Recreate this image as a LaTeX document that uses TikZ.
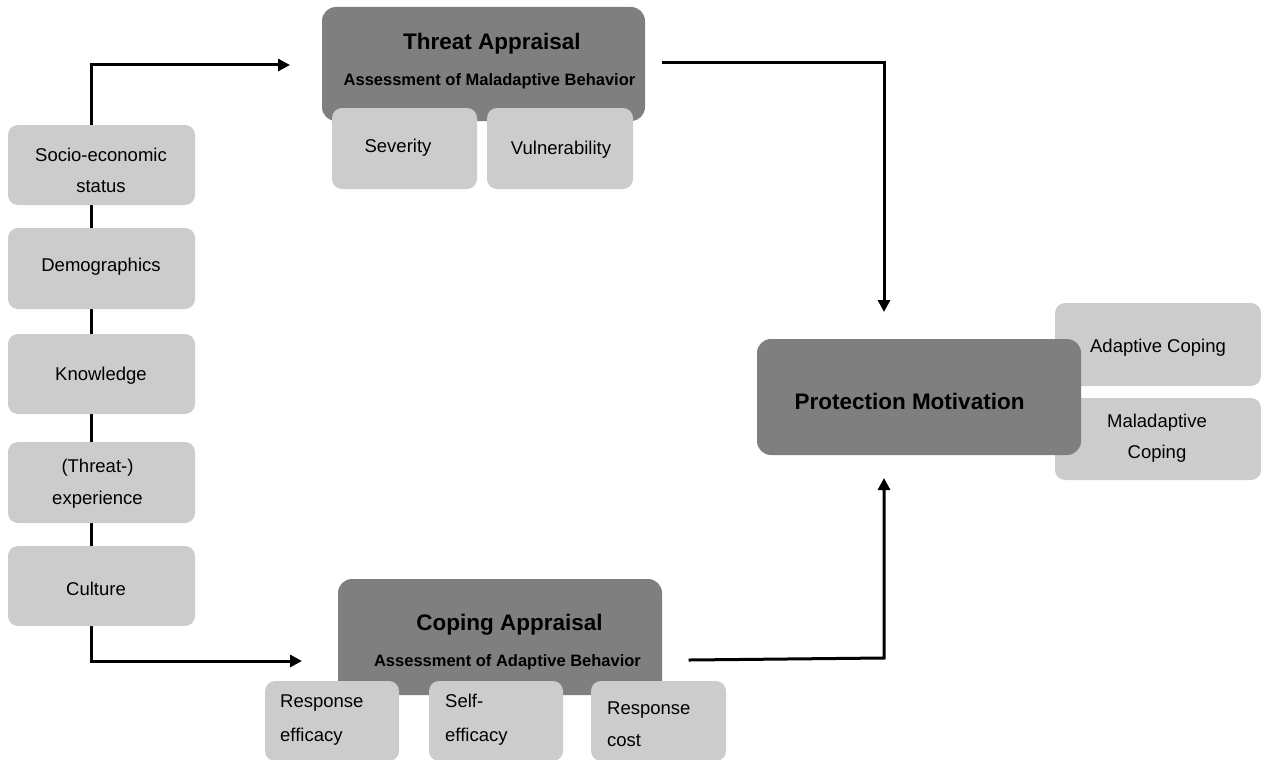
\documentclass[tikz,border=0pt]{standalone}
\usepackage{fontspec}
\setmainfont{Liberation Sans}
\usetikzlibrary{arrows.meta}
\definecolor{darkbox}{HTML}{7F7F7F}
\definecolor{lightbox}{HTML}{CCCCCC}
\tikzset{
  darkrect/.style={fill=darkbox, draw=none, rounded corners=14pt},
  lightrect/.style={fill=lightbox, draw=none, rounded corners=10pt},
  lbl/.style={font=\fontsize{18.5}{31}\selectfont, align=center, inner sep=0pt},
  lbll/.style={font=\fontsize{18.5}{34}\selectfont, align=left, inner sep=0pt, anchor=west},
  ttl/.style={font=\bfseries\fontsize{22.5}{26}\selectfont, inner sep=0pt},
  sub/.style={font=\bfseries\fontsize{16.5}{19}\selectfont, inner sep=0pt},
  conn/.style={line width=3pt, line cap=rect, line join=miter},
  arr/.style={conn, -{Triangle[length=12pt,width=12pt]}}
}
\begin{document}
\begin{tikzpicture}[x=1pt,y=-1pt]
\useasboundingbox (0,0) rectangle (1261,760);
% coordinates for connector ends
\coordinate (ltop) at (91,65);
\coordinate (lbot) at (91,661);
\coordinate (ttarget) at (290,65);
\coordinate (ctarget) at (302,661);
\coordinate (tout) at (663,63);
\coordinate (tcorner) at (884,63);
\coordinate (ptop) at (884,312);
\coordinate (cout) at (690,660);
\coordinate (ccorner) at (884,658);
\coordinate (pbot) at (884,478);
% connectors
\draw[arr] (lbot) -- (ltop) -- (ttarget);
\draw[arr] (lbot) -- (ctarget);
\draw[arr] (tout) -- (tcorner) -- (ptop);
\draw[arr] (cout) -- (ccorner) -- (pbot);
% threat appraisal
\node[darkrect, minimum width=323pt, minimum height=114pt] (threat) at (483.5,64) {};
\node[ttl] (threatT) at (492,44) {Threat Appraisal};
\node[sub] (threatS) at (489.5,81) {Assessment of Maladaptive Behavior};
\node[lightrect, minimum width=145pt, minimum height=81pt] (sev) at (404.5,148.5) {};
\node[lbl] at (398,148) {Severity};
\node[lightrect, minimum width=146pt, minimum height=81pt] (vul) at (560,148.5) {};
\node[lbl] at (561,150) {Vulnerability};
% left column
\node[lightrect, minimum width=187pt, minimum height=80pt] (soc) at (101.5,165) {};
\node[lbl] at (101,170) {Socio-economic\\status};
\node[lightrect, minimum width=187pt, minimum height=81pt] (dem) at (101.5,268.5) {};
\node[lbl] at (101,267) {Demographics};
\node[lightrect, minimum width=187pt, minimum height=80pt] (kno) at (101.5,374) {};
\node[lbl] at (101,376) {Knowledge};
\node[lightrect, minimum width=187pt, minimum height=81pt] (exp) at (101.5,482.5) {};
\node[lbl, font=\fontsize{18.5}{32}\selectfont] at (97.5,484) {(Threat-)\\experience};
\node[lightrect, minimum width=187pt, minimum height=80pt] (cul) at (101.5,586) {};
\node[lbl] at (96,589) {Culture};
% coping appraisal
\node[darkrect, minimum width=324pt, minimum height=116pt] (coping) at (500,637) {};
\node[ttl] at (509.5,625) {Coping Appraisal};
\node[sub] at (507.5,662) {Assessment of Adaptive Behavior};
\node[lightrect, minimum width=134pt, minimum height=80pt] (reff) at (332,721) {};
\node[lbll] at (280,720) {Response\\efficacy};
\node[lightrect, minimum width=134pt, minimum height=80pt] (seff) at (496,721) {};
\node[lbll] at (445,720) {Self-\\efficacy};
\node[lightrect, minimum width=135pt, minimum height=80pt] (rcost) at (658.5,721) {};
\node[lbll, font=\fontsize{18.5}{32}\selectfont] at (607,724) {Response\\cost};
% protection motivation
\node[lightrect, minimum width=206pt, minimum height=83pt] (adapt) at (1158,344.5) {};
\node[lbl] at (1158,348) {Adaptive Coping};
\node[lightrect, minimum width=206pt, minimum height=82pt] (malad) at (1158,439) {};
\node[lbl] at (1157,438) {Maladaptive\\Coping};
\node[darkrect, minimum width=324pt, minimum height=116pt] (prot) at (919,397) {};
\node[ttl] at (909.5,401) {Protection Motivation};
\end{tikzpicture}
\end{document}
